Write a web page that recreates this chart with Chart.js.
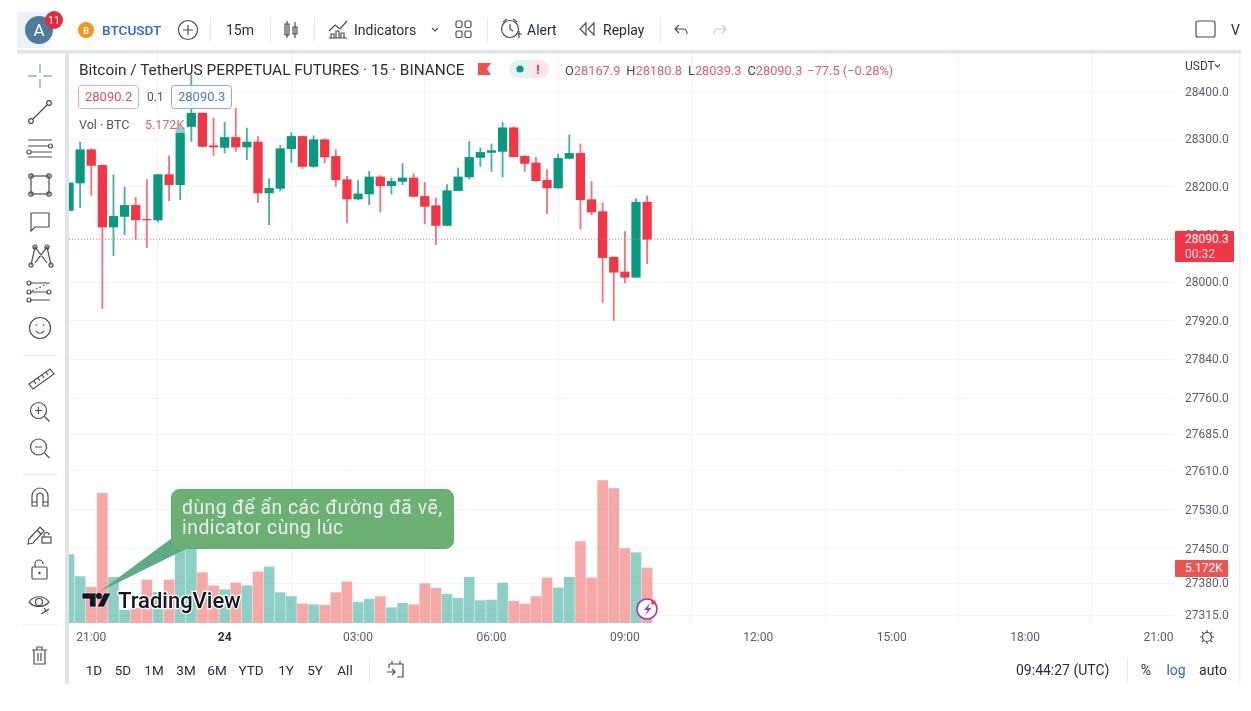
<!DOCTYPE html>
<html lang="vi">
<head>
<meta charset="utf-8">
<title>BTCUSDT</title>
<script src="https://cdn.jsdelivr.net/npm/chart.js@4"></script>
<style>
html,body{margin:0;padding:0;background:#fff;width:1251px;height:711px;overflow:hidden}
#wrap{position:relative;width:1251px;height:711px}
canvas{position:absolute;left:0;top:0}
svg{position:absolute;left:0;top:0}
svg text{font-family:Roboto,sans-serif}
.ic{fill:none;stroke:#4a4d56;stroke-width:1.2}
.tag{position:absolute;left:1175px;color:#fff;font:12px/15px Roboto,sans-serif;border-radius:1px}
</style>
</head>
<body>
<div id="wrap">
<canvas id="c" width="1251" height="711"></canvas>
<svg width="1251" height="711" viewBox="0 0 1251 711" xmlns="http://www.w3.org/2000/svg">
  <!-- frame -->
  <rect x="17" y="50" width="1224" height="3.5" fill="#e0e3eb"/>
  <rect x="65" y="53" width="4" height="631" fill="#e0e3eb"/>
  <rect x="1239" y="53" width="1.5" height="631" fill="#eef0f4"/>
  <rect x="17" y="12" width="28" height="36" fill="#eef1f6"/>
  <!-- top toolbar -->
  <circle cx="39" cy="30" r="14" fill="#4d7c9b"/>
  <text x="39" y="36" text-anchor="middle" font-size="17" fill="#fff">A</text>
  <circle cx="54" cy="20" r="9" fill="#e6293b"/>
  <text x="54" y="24" text-anchor="middle" font-size="10.5" fill="#fff">11</text>
  <circle cx="86" cy="30" r="8" fill="#f7931a"/>
  <text x="86" y="33.5" text-anchor="middle" font-size="9" font-weight="700" fill="#fff">B</text>
  <text x="102" y="34.5" font-size="13.6" font-weight="500" fill="#2962ff">BTCUSDT</text>
  <circle cx="188" cy="30" r="9.5" class="ic"/><path d="M183 30h10M188 25v10" class="ic"/>
  <rect x="210" y="17" width="1" height="25" fill="#e6e8ee"/>
  <text x="226" y="34.5" font-size="14" fill="#2a2e39">15m</text>
  <rect x="270" y="17" width="1" height="25" fill="#e6e8ee"/>
  <path d="M287 21v17M295 22v16M285 24h4v11h-4zM293 27h4v7h-4z" class="ic"/>
  <rect x="314" y="17" width="1" height="25" fill="#e6e8ee"/>
  <path d="M329 31l6-6 5 4 7-8M331 38v-4h3v4zM336 38v-7h3v7zM341 38v-5h3v5zM329 38h18" class="ic"/>
  <text x="354" y="34.5" font-size="14" fill="#2a2e39">Indicators</text>
  <path d="M432 28l3 3 3-3" class="ic"/>
  <rect x="456" y="21" width="6" height="6.5" rx="1.5" class="ic"/><rect x="465" y="21" width="6" height="6.5" rx="1.5" class="ic"/>
  <rect x="456" y="31" width="6" height="6.5" rx="1.5" class="ic"/><rect x="465" y="31" width="6" height="6.5" rx="1.5" class="ic"/>
  <rect x="487" y="17" width="1" height="25" fill="#e6e8ee"/>
  <circle cx="510" cy="29" r="8.5" class="ic"/><path d="M510 24v5l3 2M503 22l4-3M517 22l-4-3M516 34h6M519 31v7" class="ic"/>
  <text x="527" y="34.5" font-size="14" fill="#2a2e39">Alert</text>
  <path d="M586 23l-6 6 6 6zM594 23l-6 6 6 6z" class="ic"/>
  <text x="603" y="34.5" font-size="14" fill="#2a2e39">Replay</text>
  <rect x="660" y="17" width="1" height="25" fill="#e6e8ee"/>
  <path d="M679 25l-4 4 4 4M675 29h8c3 0 4 2 4 5" class="ic"/>
  <path d="M722 25l4 4-4 4M726 29h-8c-3 0-4 2-4 5" fill="none" stroke="#c8cad2" stroke-width="1.2"/>
  <rect x="1196" y="21" width="19" height="16" rx="2" class="ic"/>
  <text x="1231" y="34.5" font-size="14" fill="#2a2e39">V</text>
  <!-- left toolbar -->
  <path d="M28 76h9M43 76h9M40 64v9M40 79v9" fill="none" stroke="#8fa6dc" stroke-width="1.4"/>
  <path d="M33 119l14-14" class="ic"/><circle cx="31" cy="121" r="2.3" class="ic"/><circle cx="49" cy="103" r="2.3" class="ic"/>
  <path d="M28 140h24M28 146h21M31 152h21M28 157h24" class="ic"/><circle cx="50.5" cy="146" r="2" class="ic"/><circle cx="29" cy="152" r="2" class="ic"/>
  <rect x="31" y="176" width="18" height="18" class="ic"/><circle cx="31" cy="176" r="2.2" fill="#fff" class="ic"/><circle cx="49" cy="176" r="2.2" fill="#fff" class="ic"/><circle cx="31" cy="194" r="2.2" fill="#fff" class="ic"/><circle cx="49" cy="194" r="2.2" fill="#fff" class="ic"/>
  <path d="M31 213h18v14H35l-4 4z" class="ic"/>
  <path d="M31 265l4-18 6 8 6-8 4 18M35 247l12 16M47 247l-12 16" class="ic"/>
  <circle cx="31" cy="265" r="2" class="ic"/><circle cx="35" cy="247" r="2" class="ic"/><circle cx="47" cy="247" r="2" class="ic"/><circle cx="51" cy="265" r="2" class="ic"/>
  <path d="M30 283h20M30 292h18M30 300h20" class="ic"/><path d="M32 291l15-7" fill="none" stroke="#3a3d46" stroke-width="1" stroke-dasharray="2 2"/>
  <circle cx="29" cy="283" r="2" class="ic"/><circle cx="49" cy="292" r="2" class="ic"/><circle cx="29" cy="292" r="2" class="ic"/><circle cx="29" cy="300" r="2" class="ic"/>
  <circle cx="40" cy="328" r="10.5" class="ic"/><path d="M36 331c2 3 6 3 8 0" class="ic"/><circle cx="36.5" cy="325" r=".8" fill="#3a3d46"/><circle cx="43.5" cy="325" r=".8" fill="#3a3d46"/>
  <rect x="23" y="355" width="34" height="1" fill="#eceef2"/>
  <path d="M29 384l21-15 4 5-21 15zM34 381l2 3M38 378l2 3M42 375l2 3M46 372l2 3" class="ic"/>
  <circle cx="38.5" cy="410.5" r="8" class="ic"/><path d="M44.5 416.5l5 5M35 410.5h7M38.5 407v7" class="ic"/>
  <circle cx="38.5" cy="447" r="8" class="ic"/><path d="M44.5 453l5 5M35 447h7" class="ic"/>
  <rect x="23" y="474" width="34" height="1" fill="#eceef2"/>
  <path d="M32 506v-10a8 8 0 0 1 16 0v10h-5v-10a3 3 0 0 0-6 0v10zM32 502h5M43 502h5" class="ic"/>
  <path d="M29 539l11-12 4 4-11 12-5 1zM37 530l4 4" class="ic"/><rect x="42" y="537" width="9" height="6" class="ic"/><path d="M44 537v-2a2.500 2.500 0 0 1 5 0" class="ic"/>
  <rect x="32" y="567" width="15" height="12" rx="1" class="ic"/><path d="M35 567v-3a4 4 0 0 1 8 0" class="ic"/><circle cx="39.500" cy="573" r="1.200" fill="#3a3d46"/>
  <path d="M29 602c5-7 15-7 20 0-5 6-15 6-20 0z" class="ic"/><circle cx="39" cy="602" r="3.500" class="ic"/><path d="M41 614l8-5M44 608l3 4" class="ic"/>
  <rect x="23" y="624" width="34" height="1" fill="#eceef2"/>
  <path d="M32 650h15M34 650v14h11v-14M37 650v-3h5v3M38 653v8M41 653v8" class="ic"/>
  <!-- chart legend -->
  <text x="79" y="75" font-size="15.4" fill="#2a2e39">Bitcoin / TetherUS PERPETUAL FUTURES · 15 · BINANCE</text>
  <path d="M478 63h13l-4 6 4 6h-13z" fill="#f2504e"/>
  <rect x="509" y="60" width="40" height="18" rx="9" fill="#e2f4f0"/>
  <path d="M530 60h10a9 9 0 0 1 0 18h-10z" fill="#fce6e7"/>
  <circle cx="520" cy="69" r="3.600" fill="#089981"/>
  <text x="538" y="74" text-anchor="middle" font-size="13" font-weight="700" fill="#f23645">!</text>
  <text y="75" font-size="12.800" fill="#ee5a65" x="565"><tspan fill="#444">O</tspan>28167.9<tspan fill="#444" dx="6">H</tspan>28180.8<tspan fill="#444" dx="6">L</tspan>28039.3<tspan fill="#444" dx="6">C</tspan>28090.3<tspan dx="5">−77.5 (−0.28%)</tspan></text>
  <rect x="78.500" y="85.500" width="60" height="23" rx="3" fill="#fff" fill-opacity=".8" stroke="#eea6aa"/>
  <text x="85" y="101" font-size="13" fill="#e2505c">28090.2</text>
  <text x="147" y="101" font-size="12" fill="#555">0.1</text>
  <rect x="171.500" y="85.500" width="60" height="23" rx="3" fill="#fff" fill-opacity=".8" stroke="#8aa4ec"/>
  <text x="178" y="101" font-size="13" fill="#4f74e3">28090.3</text>
  <rect x="142" y="116" width="44" height="17" fill="#fff" fill-opacity=".55"/>
  <text x="79" y="129" font-size="12.500" fill="#555">Vol · BTC</text>
  <text x="145" y="129" font-size="12.500" fill="#e8606a">5.172K</text>
  <text x="1185" y="70" font-size="12" fill="#3a3d46">USDT</text>
  <path d="M1215 64.500l2.500 2.500 2.500-2.500" class="ic"/>
  <!-- callout -->
  <path d="M172 538L99 592L186 549z" fill="#5eab84"/>
  <rect x="171.500" y="489.500" width="282" height="59" rx="8" fill="#6cb073" stroke="#55ad8a"/>
  <path d="M173 537L174 549H188z" fill="#6cb073"/>
  <text x="182" y="514" font-size="19.300" letter-spacing=".52" fill="#e9f5ea">dùng để ẩn các đường đã vẽ,</text>
  <text x="182" y="534" font-size="19.300" letter-spacing=".52" fill="#e9f5ea">indicator cùng lúc</text>
  <!-- tradingview mark -->
  <path d="M82 593h14v14h-6.500v-8H82zM104 593h7l-7 14h-7z" fill="#131722" stroke="#fff" stroke-width=".6"/><circle cx="99" cy="596" r="3" fill="#131722"/>
  <text x="118" y="608" font-size="22" font-weight="500" fill="#131722" stroke="#fff" stroke-width="2.500" paint-order="stroke">TradingView</text>
  <circle cx="647" cy="609" r="10" fill="#fff" fill-opacity=".9" stroke="#9b3fc8" stroke-width="1.600"/>
  <path d="M650 603l-6 7h3.500l-2 5 6-7h-3.500z" fill="#9b3fc8"/>
  <circle cx="653.500" cy="602.500" r="2.300" fill="#f23645"/>
  <!-- settings -->
  <circle cx="1207" cy="637" r="4.500" class="ic"/>
  <path d="M1207 630v2.500M1207 641.500v2.500M1200 637h2.500M1211.500 637h2.500M1202 632l1.800 1.800M1210.200 640.200l1.800 1.800M1202 642l1.800-1.800M1210.200 633.800l1.800-1.800" class="ic"/>
  <!-- bottom bar -->
  <g font-size="13.500" fill="#2a2e39" text-anchor="middle">
    <text x="94" y="675">1D</text><text x="123" y="675">5D</text><text x="154" y="675">1M</text><text x="186" y="675">3M</text><text x="217" y="675">6M</text><text x="251" y="675">YTD</text><text x="286" y="675">1Y</text><text x="315" y="675">5Y</text><text x="345" y="675">All</text>
  </g>
  <rect x="369" y="658" width="1" height="24" fill="#e6e8ee"/>
  <path d="M389 664h14v13h-6M389 664v4M392 661v3M400 661v3M387 672h8M392 669l3 3-3 3" class="ic"/>
  <text x="1016" y="675" font-size="14" fill="#2a2e39">09:44:27 (UTC)</text>
  <rect x="1127" y="658" width="1" height="24" fill="#e6e8ee"/>
  <text x="1146" y="675" text-anchor="middle" font-size="14" fill="#2a2e39">%</text>
  <text x="1176" y="675" text-anchor="middle" font-size="14" fill="#2962ff">log</text>
  <text x="1213" y="675" text-anchor="middle" font-size="14" fill="#2a2e39">auto</text>
</svg>
<div class="tag" id="priceTag" style="background:#f23645;width:49px;height:30px;padding:1px 0 0 10px"><div id="priceTagA"></div><div id="priceTagB" style="opacity:.85"></div></div>
<div class="tag" id="volTag" style="background:#ef5350;width:43px;height:16px;padding:1px 0 0 10px"></div>
</div>
<script>
const times = ['20:30','20:45','21:00','21:15','21:30','21:45','22:00','22:15','22:30','22:45','23:00','23:15','23:30','23:45','00:00','00:15','00:30','00:45','01:00','01:15','01:30','01:45','02:00','02:15','02:30','02:45','03:00','03:15','03:30','03:45','04:00','04:15','04:30','04:45','05:00','05:15','05:30','05:45','06:00','06:15','06:30','06:45','07:00','07:15','07:30','07:45','08:00','08:15','08:30','08:45','09:00','09:15','09:30'];
const opens = [28150.7,28208.3,28278.2,28245.2,28115.9,28138.1,28161.2,28131.8,28130.6,28225.7,28204.7,28327.1,28355.3,28286.6,28283.0,28304.0,28283.9,28294.4,28187.3,28197.0,28280.3,28306.1,28243.1,28299.2,28264.1,28215.2,28174.7,28185.2,28220.9,28202.6,28211.6,28218.8,28180.1,28160.6,28119.2,28192.1,28220.9,28262.0,28272.5,28274.7,28324.4,28264.1,28250.3,28213.7,28197.8,28260.0,28270.4,28173.2,28148.0,28052.8,28022.0,28010.9,28167.9];
const highs = [28208.3,28294.4,28280.3,28246.7,28225.7,28199.9,28178.0,28215.2,28226.5,28265.6,28330.7,28435.7,28355.9,28344.8,28336.4,28365.8,28323.8,28306.1,28217.3,28287.2,28314.5,28306.6,28307.6,28301.3,28278.2,28222.1,28213.1,28232.6,28223.6,28218.8,28248.8,28227.8,28209.5,28176.8,28204.7,28239.8,28295.6,28281.8,28290.2,28335.5,28325.9,28265.6,28262.0,28236.2,28269.2,28309.7,28290.2,28211.6,28166.3,28053.0,28106.6,28175.3,28180.8];
const lows = [28150.7,28157.0,28182.2,27945.8,28056.2,28099.7,28089.2,28073.0,28126.4,28171.1,28173.2,28295.6,28284.5,28266.2,28271.3,28274.6,28257.2,28167.5,28120.7,28192.1,28251.5,28238.3,28241.0,28250.3,28201.1,28124.3,28173.2,28162.7,28147.4,28185.2,28204.7,28179.5,28122.8,28078.7,28118.5,28191.5,28216.7,28243.1,28232.6,28220.9,28263.0,28232.6,28211.6,28143.8,28197.2,28259.5,28111.7,28141.7,27958.4,27921.2,27999.5,28010.5,28039.3];
const closes = [28208.3,28278.2,28245.2,28115.9,28138.1,28161.2,28131.2,28130.6,28225.7,28204.7,28324.4,28355.3,28285.1,28283.9,28304.0,28283.9,28294.4,28187.3,28197.0,28280.3,28306.1,28243.1,28299.2,28262.9,28215.2,28174.7,28185.2,28220.9,28202.6,28211.6,28218.8,28180.1,28159.1,28119.2,28192.1,28220.9,28262.0,28272.5,28276.1,28324.4,28263.5,28249.4,28213.1,28197.8,28260.0,28270.4,28173.2,28147.4,28052.0,28021.4,28010.9,28167.9,28090.3];
const volumes = [6.43,4.36,3.35,12.2,4.3,1.2,1.4,4.04,2.9,4.04,7.0,7.2,4.73,3.5,3.13,3.76,3.5,4.8,5.27,2.85,2.48,1.79,1.72,1.66,2.85,3.86,1.94,2.23,2.48,1.44,1.85,1.72,3.7,3.26,2.7,2.32,4.3,2.1,2.16,3.76,2.04,1.79,2.48,4.23,3.29,4.3,7.65,4.23,13.39,12.63,6.99,6.61,5.172];
const priceTicks = [28400,28300,28200,28100,28000,27920,27840,27760,27685,27610,27530,27450,27380,27315];
const xTickSlots = [2,14,26,38,50,62,74,86,98];
const xTickLabels = ['21:00','24','03:00','06:00','09:00','12:00','15:00','18:00','21:00'];
const lastPrice = 28090.3;
const countdown = '00:32';
const volumeText = '5.172K';
const priceMin = 27299, priceMax = 28482.6, volumeMax = 53.58;
const slotMin = 0, slotMax = 99.48;

const up = '#089981', down = '#f23645';
const rising = closes.map((c, i) => c >= opens[i]);
const bodyColor = rising.map(r => r ? up : down);
const wickColor = rising.map(r => r ? 'rgba(8,153,129,.75)' : 'rgba(242,54,69,.7)');
const volColor = rising.map(r => r ? 'rgba(8,153,129,.46)' : 'rgba(239,83,80,.5)');

const placeTags = {
  id: 'placeTags',
  afterDraw(chart) {
    const y = chart.scales.y.getPixelForValue(lastPrice);
    const v = chart.scales.v.getPixelForValue(volumes[volumes.length - 1]);
    const p = document.getElementById('priceTag');
    p.style.top = (y - 8) + 'px';
    document.getElementById('priceTagA').textContent = lastPrice.toFixed(1);
    document.getElementById('priceTagB').textContent = countdown;
    const t = document.getElementById('volTag');
    t.style.top = (v - 8) + 'px';
    t.textContent = volumeText;
  }
};

Chart.defaults.font.family = 'Roboto, sans-serif';
new Chart(document.getElementById('c'), {
  type: 'bar',
  plugins: [placeTags],
  data: {
    datasets: [
      { label: 'Last price', type: 'line', yAxisID: 'y', order: 0,
        data: [{ x: slotMin, y: lastPrice }, { x: slotMax, y: lastPrice }],
        borderColor: '#f0737c', borderWidth: 1, borderDash: [1, 2], pointRadius: 0 },
      { label: 'Body', yAxisID: 'y', order: 1, grouped: false, barThickness: 8.6,
        data: times.map((t, i) => ({ x: i, y: [Math.min(opens[i], closes[i]), Math.max(opens[i], closes[i])] })),
        backgroundColor: bodyColor },
      { label: 'Wick', yAxisID: 'y', order: 2, grouped: false, barThickness: 1.2,
        data: times.map((t, i) => ({ x: i, y: [lows[i], highs[i]] })),
        backgroundColor: wickColor },
      { label: 'Vol', yAxisID: 'v', order: 3, grouped: false, barThickness: 10,
        data: times.map((t, i) => ({ x: i, y: volumes[i] })),
        backgroundColor: volColor }
    ]
  },
  options: {
    responsive: false,
    animation: false,
    layout: { padding: { left: 69, right: 11, top: 53, bottom: 58 } },
    plugins: { legend: { display: false }, tooltip: { enabled: false }, title: { display: false } },
    scales: {
      x: {
        type: 'linear', min: slotMin, max: slotMax, offset: false,
        grid: { color: '#f2f4f9', drawTicks: false },
        border: { display: false },
        afterBuildTicks(s) { s.ticks = xTickSlots.map(value => ({ value })); },
        afterFit(s) { s.height = 30; },
        ticks: {
          autoSkip: false, maxRotation: 0, padding: 8,
          callback: value => xTickLabels[xTickSlots.indexOf(value)],
          color: ctx => (ctx.tick && ctx.tick.value === 14) ? '#2a2e39' : '#5d606b',
          font: ctx => ({ size: 12, weight: (ctx.tick && ctx.tick.value === 14) ? '700' : '400' })
        }
      },
      y: {
        type: 'logarithmic', position: 'right', min: priceMin, max: priceMax, bounds: 'data',
        grid: { color: '#f2f4f9', drawTicks: false },
        border: { display: false },
        afterBuildTicks(s) { s.ticks = priceTicks.map(value => ({ value })); },
        afterFit(s) { s.width = 65; },
        ticks: {
          autoSkip: false, padding: 10, labelOffset: 1, color: '#5d606b', font: { size: 12 },
          callback: value => Number(value).toFixed(1)
        }
      },
      v: {
        type: 'linear', display: false, position: 'right', min: 0, max: volumeMax,
        grid: { display: false }
      }
    }
  }
});
</script>
</body>
</html>
